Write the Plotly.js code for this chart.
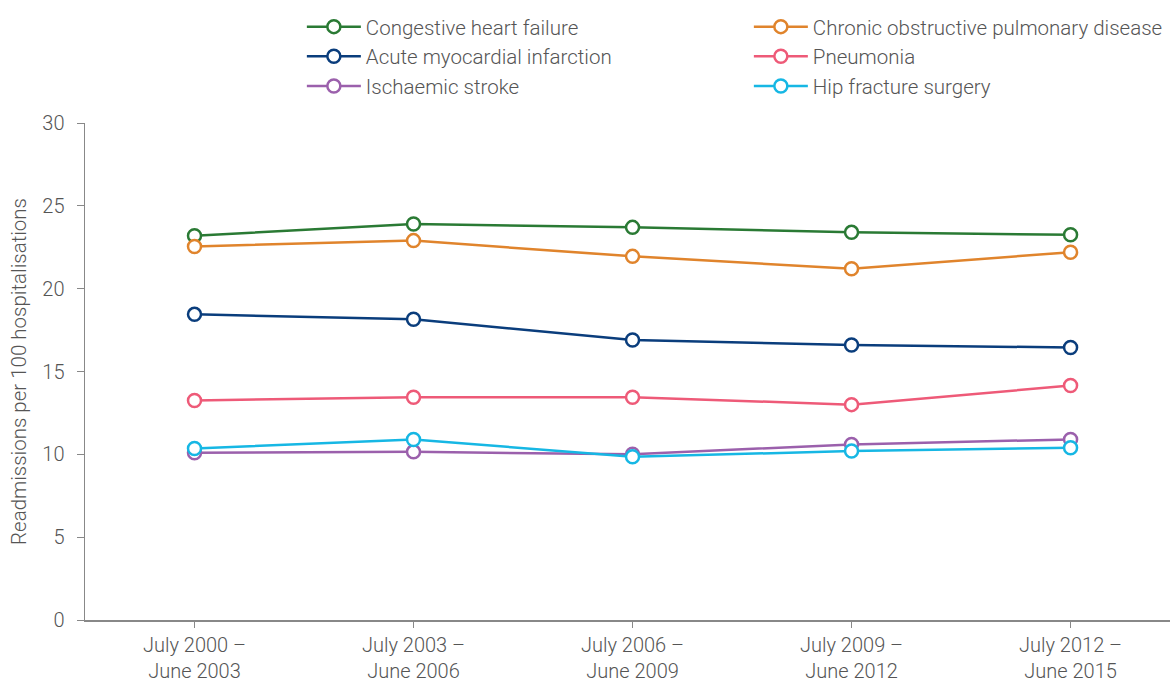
<!DOCTYPE html>
<html>
<head>
<meta charset="utf-8">
<script src="https://cdn.plot.ly/plotly-3.0.1.min.js"></script>
<style>html,body{margin:0;padding:0;background:#fff;}#chart{width:1170px;height:681px;}</style>
</head>
<body>
<div id="chart"></div>
<script>
const periods = ["July 2000 –<br>June 2003", "July 2003 –<br>June 2006", "July 2006 –<br>June 2009", "July 2009 –<br>June 2012", "July 2012 –<br>June 2015"];
const seriesNames = ["Congestive heart failure", "Chronic obstructive pulmonary disease", "Acute myocardial infarction", "Pneumonia", "Ischaemic stroke", "Hip fracture surgery"];
const chf = [23.2, 23.9, 23.7, 23.4, 23.25];
const copd = [22.55, 22.9, 21.95, 21.2, 22.2];
const ami = [18.45, 18.15, 16.9, 16.6, 16.45];
const pneumonia = [13.25, 13.45, 13.45, 13.0, 14.15];
const stroke = [10.1, 10.15, 10.0, 10.6, 10.9];
const hip = [10.35, 10.9, 9.85, 10.2, 10.4];
const colors = ["#2a7a34", "#e0842c", "#0a3d7c", "#ee5a78", "#9b60ac", "#16b7e4"];
const values = [chf, copd, ami, pneumonia, stroke, hip];

const traces = values.map((v, i) => ({
  type: "scatter",
  mode: "lines+markers",
  name: seriesNames[i],
  x: periods,
  y: v,
  line: {color: colors[i], width: 2.5},
  marker: {symbol: "circle", size: 13, color: "#ffffff", line: {color: colors[i], width: 2.5}}
}));

const fam = "Roboto, Liberation Sans, sans-serif";
const tickFont = {family: fam, size: 20, color: "#555555", weight: 300};

const layout = {
  width: 1170, height: 681,
  margin: {l: 85, r: 0, t: 123, b: 61},
  paper_bgcolor: "#ffffff", plot_bgcolor: "#ffffff",
  showlegend: true,
  legend: {
    orientation: "h",
    xref: "container", yref: "container",
    x: 0.258, y: 0.99, xanchor: "left", yanchor: "top",
    entrywidth: 378, entrywidthmode: "pixels",
    font: {family: fam, size: 20.5, color: "#555555", weight: 300},
    itemwidth: 54,
    tracegroupgap: 0
  },
  xaxis: {
    type: "category",
    range: [-0.5, 4.454],
    showline: true, linecolor: "#888888", linewidth: 1.5,
    ticks: "outside", ticklen: 6, tickcolor: "#888888",
    showgrid: false, zeroline: false,
    tickfont: tickFont
  },
  yaxis: {
    range: [0, 30], dtick: 5,
    showline: true, linecolor: "#888888", linewidth: 1.5,
    ticks: "outside", ticklen: 7, tickcolor: "#888888",
    ticklabelstandoff: 8,
    showgrid: false, zeroline: false,
    tickfont: tickFont,
    title: {text: "Readmissions per 100 hospitalisations", font: {family: fam, size: 20.5, color: "#555555", weight: 300}, standoff: 10}
  }
};

Plotly.newPlot("chart", traces, layout, {displayModeBar: false, staticPlot: true});
</script>
</body>
</html>
